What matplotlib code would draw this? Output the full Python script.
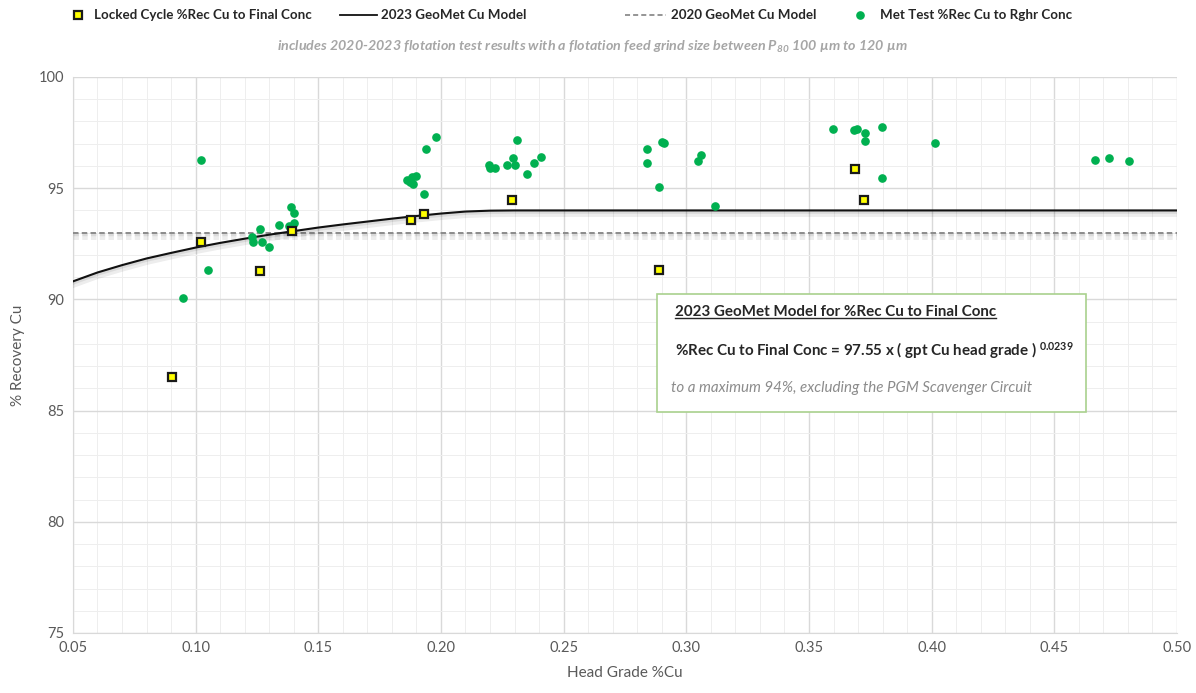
import matplotlib
matplotlib.use("Agg")
import matplotlib.pyplot as plt
import matplotlib.patheffects as pe
from matplotlib.lines import Line2D
from matplotlib.patches import Rectangle
from matplotlib.ticker import MultipleLocator, FormatStrFormatter

plt.rcParams['font.family'] = ['Lato', 'DejaVu Sans']
plt.rcParams['mathtext.default'] = 'regular'

# ---- data ----
locked_x = [0.0904, 0.1022, 0.1262, 0.1393, 0.1878, 0.1931, 0.2290, 0.2889, 0.3688, 0.3725]
locked_y = [86.49, 92.60, 91.26, 93.08, 93.56, 93.82, 94.47, 91.31, 95.86, 94.46]

met_x = [0.102, 0.105, 0.095, 0.1231, 0.1233, 0.1262, 0.1272, 0.1300, 0.1341, 0.1382,
         0.1401, 0.1390, 0.1401, 0.1863, 0.1880, 0.1900, 0.1887, 0.1874, 0.1931, 0.1939,
         0.1980, 0.2197, 0.2200, 0.2220, 0.2268, 0.2292, 0.2302, 0.2309, 0.2350, 0.2379,
         0.2409, 0.2839, 0.2839, 0.2900, 0.2910, 0.2888, 0.3047, 0.3059, 0.3117, 0.3597,
         0.3685, 0.3697, 0.3729, 0.3729, 0.3797, 0.3797, 0.4015, 0.4666, 0.4724, 0.4805]
met_y = [96.26, 91.34, 90.05, 92.81, 92.57, 93.15, 92.57, 92.37, 93.36, 93.30,
         93.44, 94.16, 93.89, 95.36, 95.51, 95.54, 95.18, 95.28, 94.73, 96.76,
         97.31, 96.04, 95.89, 95.92, 96.04, 96.37, 96.04, 97.16, 95.66, 96.14,
         96.41, 96.74, 96.14, 97.07, 97.01, 95.06, 96.23, 96.49, 94.19, 97.66,
         97.61, 97.66, 97.49, 97.12, 97.73, 95.46, 97.01, 96.29, 96.38, 96.22]

model2023_x = [0.05, 0.06, 0.07, 0.08, 0.09, 0.10, 0.11, 0.12, 0.13, 0.14, 0.15, 0.16,
               0.17, 0.18, 0.19, 0.20, 0.21, 0.22, 0.23, 0.25, 0.30, 0.35, 0.40, 0.45, 0.50]
model2023_y = [90.81, 91.21, 91.54, 91.84, 92.09, 92.33, 92.54, 92.73, 92.91, 93.07, 93.23, 93.37,
               93.50, 93.63, 93.75, 93.86, 93.95, 93.99, 94.0, 94.0, 94.0, 94.0, 94.0, 94.0, 94.0]

model2020_x = [0.05, 0.50]
model2020_y = [93.0, 93.0]

x_ticks = [0.05, 0.10, 0.15, 0.20, 0.25, 0.30, 0.35, 0.40, 0.45, 0.50]
y_ticks = [75, 80, 85, 90, 95, 100]

# ---- figure ----
fig = plt.figure(figsize=(11.96, 6.93), dpi=100)
ax = fig.add_axes([0.061, 0.0866, 0.9231, 0.8023])

ax.set_xlim(0.05, 0.50)
ax.set_ylim(75, 100)
ax.set_xticks(x_ticks)
ax.set_yticks(y_ticks)
ax.xaxis.set_major_formatter(FormatStrFormatter('%.2f'))
ax.xaxis.set_minor_locator(MultipleLocator(0.01))
ax.yaxis.set_minor_locator(MultipleLocator(1))
ax.grid(which='major', color='#d9d9d9', lw=1.0)
ax.grid(which='minor', color='#eeeeee', lw=0.7)
ax.set_axisbelow(True)
ax.tick_params(which='both', length=0, colors='#595959', labelsize=10.5, pad=6)
for s in ax.spines.values():
    s.set_color('#d9d9d9')
ax.spines['top'].set_visible(False)
ax.spines['right'].set_visible(False)

ax.set_xlabel('Head Grade %Cu', color='#595959', fontsize=11, labelpad=8)
ax.set_ylabel('% Recovery Cu', color='#595959', fontsize=11, labelpad=10)

shadow = [pe.SimpleLineShadow(offset=(0, -2.2), shadow_color='#000000', alpha=0.07, linewidth=5),
          pe.SimpleLineShadow(offset=(0, -1.2), shadow_color='#000000', alpha=0.08, linewidth=2.5),
          pe.Normal()]

dash = (0, (2.8, 1.7))
ax.plot(model2020_x, model2020_y, color='#8c8c8c', lw=1.4, ls=dash,
        path_effects=shadow, zorder=3)
ax.plot(model2023_x, model2023_y, color='#111111', lw=1.5,
        path_effects=shadow, zorder=4)
ax.plot(met_x, met_y, 'o', color='#00b050', ms=5.2, mec='#00b050', ls='none', zorder=5)
ax.plot(locked_x, locked_y, 's', mfc='#ffff00', mec='#1a1a1a', mew=1.6, ms=6,
        ls='none', zorder=6)

# legend proxies (no shadow)
h_lock = Line2D([], [], marker='s', mfc='#ffff00', mec='#1a1a1a', mew=1.6, ms=6, ls='none')
h_2023 = Line2D([], [], color='#111111', lw=1.3)
h_2020 = Line2D([], [], color='#8c8c8c', lw=1.3, ls=dash)
h_met = Line2D([], [], marker='o', color='#00b050', ms=5.2, ls='none')

leg_items = [(h_lock, 'Locked Cycle %Rec Cu to Final Conc', 0.0585, 1.2, 0.6),
             (h_2023, '2023 GeoMet Cu Model', 0.2843, 2.75, 0.35),
             (h_2020, '2020 GeoMet Cu Model', 0.5226, 3.1, 0.35),
             (h_met, 'Met Test %Rec Cu to Rghr Conc', 0.7124, 1.2, 0.9)]
for h, lab, xpos, hl, tp in leg_items:
    lg = fig.legend([h], [lab], loc='center left', bbox_to_anchor=(xpos, 0.978),
                    frameon=False, borderpad=0, borderaxespad=0, handlelength=hl,
                    handletextpad=tp, prop={'weight': 'bold', 'size': 9.6})
    for t in lg.get_texts():
        t.set_color('#262626')

fig.text(0.495, 0.932,
         r'includes 2020-2023 flotation test results with a flotation feed grind size between P$_{\mathregular{80}}$ 100 µm to 120 µm',
         ha='center', va='center', style='italic', weight='bold', color='#a6a6a6', fontsize=10.3)

# ---- text box ----
box = Rectangle((0.2881, 84.95), 0.1749, 5.28, facecolor='white', edgecolor='#a9d18e',
                lw=1.2, zorder=7)
ax.add_patch(box)
title = ax.text(0.2954, 89.43, '2023 GeoMet Model for %Rec Cu to Final Conc', fontsize=10.9,
                weight='bold', color='#262626', zorder=8, va='center')
ax.text(0.2954, 87.72, r'%Rec Cu to Final Conc = 97.55 x ( gpt Cu head grade ) $^{\mathregular{0.0239}}$',
        fontsize=10.9, weight='bold', color='#262626', zorder=8, va='center')
ax.text(0.2938, 86.0, 'to a maximum 94%, excluding the PGM Scavenger Circuit', fontsize=10.9,
        style='italic', color='#8c8c8c', zorder=8, va='center')

fig.canvas.draw()
bb = title.get_window_extent().transformed(fig.transFigure.inverted())
fig.add_artist(Line2D([bb.x0, bb.x1], [bb.y0 + 0.002, bb.y0 + 0.002], color='#262626', lw=1.0,
                      transform=fig.transFigure, zorder=9))

fig.savefig('out.png', dpi=100, facecolor='white')
